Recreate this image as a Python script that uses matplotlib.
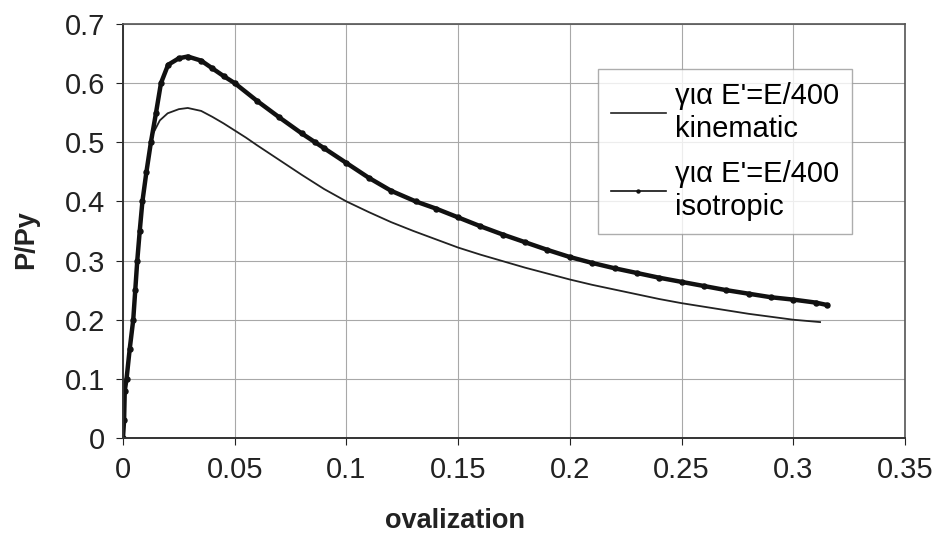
import matplotlib
matplotlib.use("Agg")
import matplotlib.pyplot as plt

plt.rcParams['font.family'] = ['Liberation Sans', 'DejaVu Sans']

# kinematic hardening, E' = E/400
kin_x = [0, 0.0005, 0.0008, 0.0016, 0.003, 0.0046, 0.0055, 0.0064, 0.0075, 0.0087,
         0.0105, 0.012, 0.0135, 0.0165, 0.020, 0.025, 0.029, 0.035, 0.040, 0.045,
         0.050, 0.055, 0.060, 0.070, 0.080, 0.090, 0.100, 0.110, 0.120, 0.130,
         0.140, 0.150, 0.160, 0.170, 0.180, 0.190, 0.200, 0.210, 0.220, 0.230,
         0.240, 0.250, 0.260, 0.270, 0.280, 0.290, 0.300, 0.312]
kin_y = [0, 0.03, 0.08, 0.10, 0.15, 0.20, 0.25, 0.30, 0.35, 0.40,
         0.45, 0.49, 0.515, 0.537, 0.549, 0.556, 0.558, 0.553, 0.543, 0.532,
         0.520, 0.508, 0.495, 0.470, 0.445, 0.421, 0.400, 0.382, 0.365, 0.350,
         0.336, 0.322, 0.310, 0.299, 0.288, 0.278, 0.268, 0.259, 0.251, 0.243,
         0.235, 0.228, 0.222, 0.216, 0.210, 0.205, 0.200, 0.196]

# isotropic hardening, E' = E/400
iso_x = [0, 0.0005, 0.0008, 0.0016, 0.003, 0.0046, 0.0055, 0.0064, 0.0075, 0.0087,
         0.0105, 0.0125, 0.0148, 0.017, 0.0202, 0.025, 0.029, 0.035, 0.040, 0.045,
         0.050, 0.060, 0.070, 0.080, 0.086, 0.090, 0.100, 0.110, 0.120, 0.131,
         0.140, 0.150, 0.160, 0.170, 0.180, 0.190, 0.200, 0.210, 0.220, 0.230,
         0.240, 0.250, 0.260, 0.270, 0.280, 0.290, 0.300, 0.310, 0.315]
iso_y = [0, 0.03, 0.08, 0.10, 0.15, 0.20, 0.25, 0.30, 0.35, 0.40,
         0.45, 0.50, 0.55, 0.60, 0.631, 0.642, 0.645, 0.638, 0.625, 0.612,
         0.600, 0.570, 0.542, 0.515, 0.500, 0.490, 0.465, 0.440, 0.418, 0.400,
         0.388, 0.373, 0.358, 0.344, 0.331, 0.318, 0.306, 0.296, 0.287, 0.279,
         0.271, 0.264, 0.257, 0.250, 0.244, 0.238, 0.234, 0.229, 0.225]

x_ticks = [0, 0.05, 0.1, 0.15, 0.2, 0.25, 0.3, 0.35]
x_ticklabels = ['0', '0.05', '0.1', '0.15', '0.2', '0.25', '0.3', '0.35']
y_ticks = [0, 0.1, 0.2, 0.3, 0.4, 0.5, 0.6, 0.7]
y_ticklabels = ['0', '0.1', '0.2', '0.3', '0.4', '0.5', '0.6', '0.7']

fig = plt.figure(figsize=(9.38, 5.5), dpi=100)
ax = fig.add_axes([0.1311, 0.2036, 0.8337, 0.7528])

ax.plot(kin_x, kin_y, color='#222222', lw=1.3,
        label="για E'=E/400\nkinematic")
ax.plot(iso_x, iso_y, color='#111111', lw=3.2, marker='o', ms=3.6,
        label="για E'=E/400\nisotropic")

ax.set_xlim(0, 0.35)
ax.set_ylim(0, 0.7)
ax.set_xticks(x_ticks)
ax.set_xticklabels(x_ticklabels)
ax.set_yticks(y_ticks)
ax.set_yticklabels(y_ticklabels)
ax.tick_params(labelsize=21, colors='#222222', length=5, width=0.8, pad=8)
ax.grid(True, color='#a8a8a8', lw=0.8)
ax.set_axisbelow(True)
for side in ['left', 'bottom']:
    ax.spines[side].set_color('#333333')
    ax.spines[side].set_linewidth(1.4)
for side in ['top', 'right']:
    ax.spines[side].set_color('#555555')
    ax.spines[side].set_linewidth(1.2)

fig.text(0.485, 0.052, 'ovalization', fontsize=19.5, fontweight='bold',
         ha='center', va='center', color='#222222')
fig.text(0.028, 0.565, 'P/Py', fontsize=19.5, fontweight='bold', rotation=90,
         ha='center', va='center', color='#222222')

leg = ax.legend(loc='upper left', bbox_to_anchor=(0.607, 0.891), fontsize=21,
                frameon=True, fancybox=False, edgecolor='#999999',
                handlelength=1.9, handletextpad=0.3, labelspacing=0.6,
                borderpad=0.45, borderaxespad=0, markerscale=0.6)
leg.get_frame().set_linewidth(1.0)
for h in leg.legend_handles:
    h.set_linewidth(1.2)

fig.savefig('out.png', dpi=100, facecolor='white')
